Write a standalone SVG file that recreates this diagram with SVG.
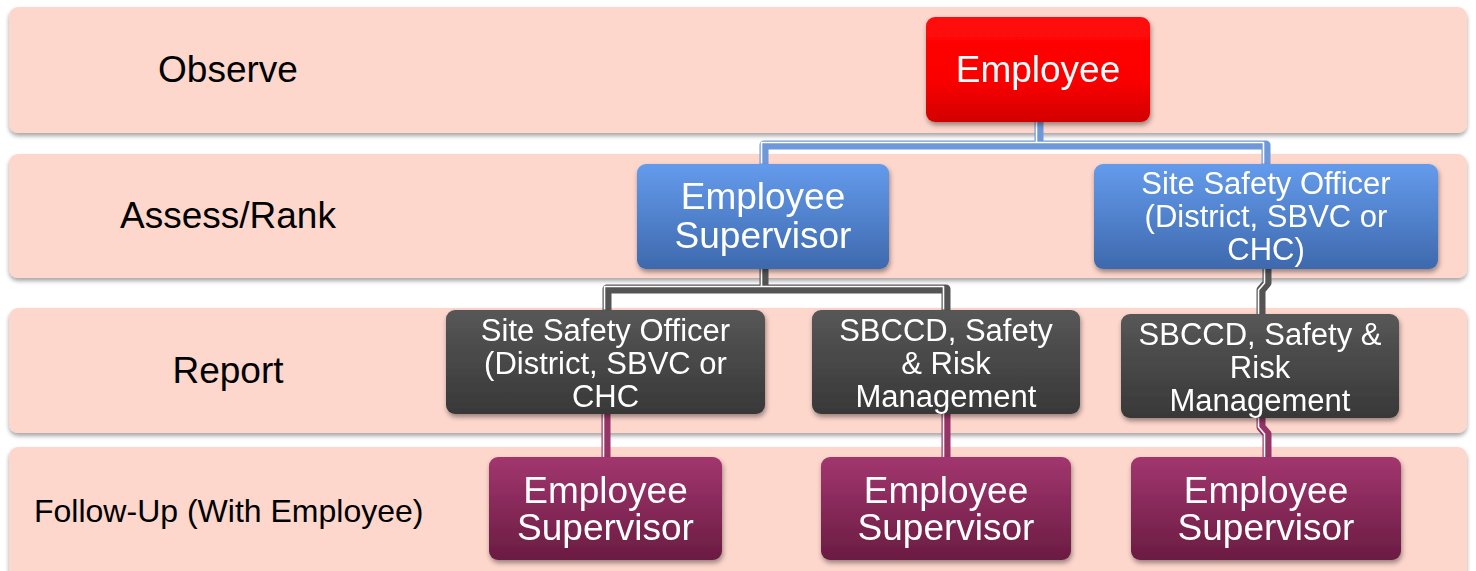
<svg xmlns="http://www.w3.org/2000/svg" width="1476" height="571" viewBox="0 0 1476 571">
<defs>
<filter id="sh" x="-5%" y="-10%" width="110%" height="130%">
<feDropShadow dx="0" dy="3" stdDeviation="2" flood-color="#000" flood-opacity="0.35"/>
</filter>
<filter id="nsh" x="-10%" y="-10%" width="120%" height="130%">
<feDropShadow dx="1" dy="3" stdDeviation="2.5" flood-color="#000" flood-opacity="0.4"/>
</filter>
<linearGradient id="gRed" x1="0" y1="0" x2="0" y2="1"><stop offset="0" stop-color="#ff0a0a"/><stop offset="0.6" stop-color="#fb0000"/><stop offset="1" stop-color="#d20000"/></linearGradient>
<linearGradient id="gBlue" x1="0" y1="0" x2="0" y2="1"><stop offset="0" stop-color="#649bec"/><stop offset="1" stop-color="#3e69ad"/></linearGradient>
<linearGradient id="gGrey" x1="0" y1="0" x2="0" y2="1"><stop offset="0" stop-color="#575757"/><stop offset="1" stop-color="#383838"/></linearGradient>
<linearGradient id="gPur" x1="0" y1="0" x2="0" y2="1"><stop offset="0" stop-color="#a2366f"/><stop offset="1" stop-color="#6a1c42"/></linearGradient>
<style>
.band{fill:#fdd6cc;filter:url(#sh)}
.node{filter:url(#nsh)}
.lbl{font-family:"Liberation Sans",Arial,sans-serif;font-size:37px;fill:#000}
.t{font-family:"Liberation Sans",Arial,sans-serif;fill:#fff;text-anchor:middle}
.big{font-size:37px}
.sm{font-size:31px}
.c{fill:none;stroke-width:9;stroke-linejoin:round}
.hl{fill:none;stroke:#fff;stroke-width:1.6;stroke-linejoin:round}
</style>
</defs>
<rect width="1476" height="571" fill="#fff"/>
<g id="bands">
<rect class="band" x="9" y="7" width="1458" height="126" rx="9"/>
<rect class="band" x="9" y="154" width="1458" height="124" rx="9"/>
<rect class="band" x="9" y="308" width="1458" height="125" rx="9"/>
<rect class="band" x="9" y="447" width="1458" height="134" rx="9"/>
<text class="lbl" x="228" y="82" text-anchor="middle">Observe</text>
<text class="lbl" x="228" y="228" text-anchor="middle">Assess/Rank</text>
<text class="lbl" x="228" y="383" text-anchor="middle">Report</text>
<text class="lbl" x="34" y="522" style="font-size:32px">Follow-Up (With Employee)</text>
</g>
<g id="connectors">
<path class="c" stroke="#6f98d8" d="M764,166 V145 H1266 V166 M1039,120 V145"/>
<path class="hl" transform="translate(-2.5,-2.5)" d="M764,166 V145 H1266 V166 M1039,120 V145"/>
<path class="c" stroke="#545454" d="M607,312 V289 H946 V312 M764,267 V289"/>
<path class="hl" transform="translate(-2.5,-2.5)" d="M607,312 V289 H946 V312 M764,267 V289"/>
<path class="c" stroke="#545454" d="M1267,267 V283 L1261,290 V316"/>
<path class="hl" transform="translate(-2.5,0)" d="M1267,267 V283 L1261,290 V316"/>
<path class="c" stroke="#953466" d="M606,412 V459"/>
<path class="hl" d="M603.5,412 V459"/>
<path class="c" stroke="#953466" d="M946,412 V459"/>
<path class="hl" d="M943.5,412 V459"/>
<path class="c" stroke="#953466" d="M1261,416 V427 L1267,434 V458"/>
<path class="hl" transform="translate(-2.5,0)" d="M1261,416 V427 L1267,434 V458"/>
</g>
<g id="n-employee" class="node">
<rect x="926" y="17" width="224" height="105" rx="9" fill="url(#gRed)"/>
<text class="t big" x="1038" y="82">Employee</text>
</g>
<g id="n-sup-assess" class="node">
<rect x="637" y="164" width="252" height="105" rx="9" fill="url(#gBlue)"/>
<text class="t big" x="763" y="209">Employee</text>
<text class="t big" x="763" y="248">Supervisor</text>
</g>
<g id="n-sso-assess" class="node">
<rect x="1094" y="164" width="344" height="105" rx="9" fill="url(#gBlue)"/>
<text class="t sm" x="1266" y="194">Site Safety Officer</text>
<text class="t sm" x="1266" y="227">(District, SBVC or</text>
<text class="t sm" x="1266" y="260">CHC)</text>
</g>
<g id="n-sso-report" class="node">
<rect x="446" y="310" width="319" height="104" rx="9" fill="url(#gGrey)"/>
<text class="t sm" x="605.5" y="341">Site Safety Officer</text>
<text class="t sm" x="605.5" y="374">(District, SBVC or</text>
<text class="t sm" x="605.5" y="407">CHC</text>
</g>
<g id="n-sbccd-report-1" class="node">
<rect x="812" y="310" width="268" height="104" rx="9" fill="url(#gGrey)"/>
<text class="t sm" x="946" y="341">SBCCD, Safety</text>
<text class="t sm" x="946" y="374">&amp; Risk</text>
<text class="t sm" x="946" y="407">Management</text>
</g>
<g id="n-sbccd-report-2" class="node">
<rect x="1121" y="314" width="278" height="104" rx="9" fill="url(#gGrey)"/>
<text class="t sm" x="1260" y="345">SBCCD, Safety &amp;</text>
<text class="t sm" x="1260" y="378">Risk</text>
<text class="t sm" x="1260" y="411">Management</text>
</g>
<g id="n-sup-follow-1" class="node">
<rect x="489" y="457" width="233" height="103" rx="9" fill="url(#gPur)"/>
<text class="t big" x="605.5" y="503">Employee</text>
<text class="t big" x="605.5" y="540">Supervisor</text>
</g>
<g id="n-sup-follow-2" class="node">
<rect x="821" y="457" width="250" height="103" rx="9" fill="url(#gPur)"/>
<text class="t big" x="946" y="503">Employee</text>
<text class="t big" x="946" y="540">Supervisor</text>
</g>
<g id="n-sup-follow-3" class="node">
<rect x="1131" y="457" width="270" height="103" rx="9" fill="url(#gPur)"/>
<text class="t big" x="1266" y="503">Employee</text>
<text class="t big" x="1266" y="540">Supervisor</text>
</g>
</svg>
